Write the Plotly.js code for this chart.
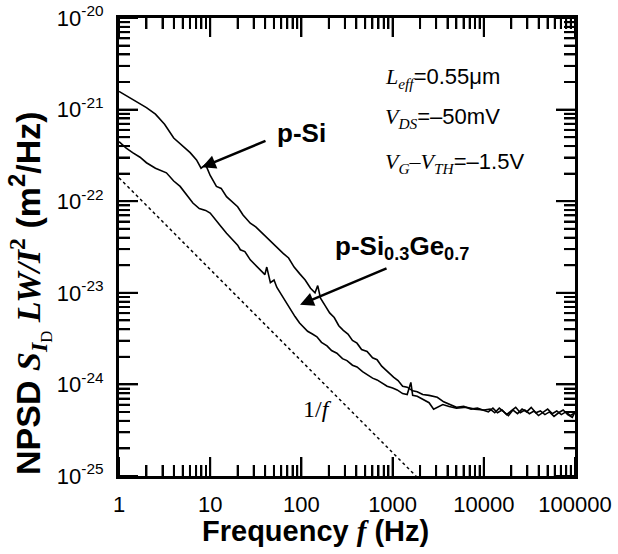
<!DOCTYPE html>
<html>
<head>
<meta charset="utf-8">
<script src="https://cdn.plot.ly/plotly-3.0.1.min.js"></script>
<style>html,body{margin:0;padding:0;background:#fff;}#chart{width:618px;height:554px;}</style>
</head>
<body>
<div id="chart"></div>
<script>
// ---- data ----
const freqPSi = [1, 1.26, 1.58, 2.0, 2.51, 3.16, 3.98, 5.01, 6.03, 7.08, 7.94, 8.91, 10, 11.7, 13.2, 15.1, 17.8, 20, 22.9, 27.5, 31.6, 35.5, 41.7, 47.9, 55, 63.1, 72.4, 83.2, 95.5, 110, 126, 141, 151, 162, 182, 204, 229, 257, 288, 324, 363, 407, 457, 525, 603, 676, 759, 871, 1023, 1148, 1288, 1445, 1660, 1862, 2138, 2512, 3090, 3631, 4266, 5012, 6026, 7244, 8511, 9772,
  11220, 12590, 14130, 15850, 17780, 19950, 22390, 25120, 28180, 31620, 35480, 39810, 44670, 50120, 56230, 63100, 70790, 79430, 89130, 100000];
const sPSi = [1.58e-21, 1.38e-21, 1.20e-21, 1.05e-21, 8.91e-22, 6.92e-22, 4.90e-22, 3.98e-22, 3.39e-22, 2.82e-22, 2.29e-22, 2.51e-22, 1.91e-22, 1.45e-22, 1.38e-22, 1.12e-22, 9.55e-23, 8.71e-23, 7.08e-23, 5.75e-23, 5.25e-23, 4.68e-23, 4.07e-23, 3.55e-23, 3.02e-23, 2.69e-23, 2.40e-23, 1.91e-23, 1.62e-23, 1.38e-23, 1.12e-23, 1.00e-23, 1.20e-23, 8.71e-24, 7.24e-24, 6.03e-24, 5.37e-24, 4.37e-24, 3.89e-24, 3.55e-24, 3.02e-24, 2.82e-24, 2.40e-24, 2.29e-24, 1.95e-24, 1.86e-24, 1.58e-24, 1.38e-24, 1.20e-24, 1.10e-24, 9.55e-25, 9.33e-25, 8.51e-25, 8.32e-25, 7.76e-25, 7.59e-25, 7.24e-25, 6.46e-25, 6.03e-25, 5.62e-25, 5.75e-25, 5.37e-25, 5.50e-25, 5.25e-25,
  5.01e-25, 5.50e-25, 4.90e-25, 5.25e-25, 4.68e-25, 5.13e-25, 5.62e-25, 4.90e-25, 5.25e-25, 4.79e-25, 5.13e-25, 4.57e-25, 5.01e-25, 5.37e-25, 4.79e-25, 5.13e-25, 4.68e-25, 5.01e-25, 4.57e-25, 4.90e-25];

const freqSiGe = [1, 1.2, 1.41, 1.7, 2.0, 2.51, 3.31, 3.98, 4.68, 5.5, 6.46, 7.59, 8.91, 10, 11.5, 13.2, 15.1, 17.4, 20, 21.4, 24, 27.5, 31.6, 35.5, 39.8, 41.7, 45.7, 50.1, 53.7, 60.3, 67.6, 75.9, 85.1, 95.5, 105, 117, 132, 148, 166, 191, 214, 245, 282, 316, 363, 407, 468, 525, 603, 676, 776, 871, 1000, 1122, 1288, 1445, 1585, 1660, 1862, 2138, 2512, 2818, 3090, 3548, 4169, 5012, 6457, 7943, 10000,
  11750, 13180, 14790, 16600, 18620, 20890, 23440, 26300, 29510, 33110, 37150, 41690, 46770, 52480, 58880, 66070, 74130, 83180, 93330, 100000];
const sSiGe = [4.47e-22, 3.80e-22, 3.39e-22, 3.02e-22, 2.63e-22, 2.29e-22, 2.04e-22, 1.66e-22, 1.45e-22, 1.17e-22, 9.55e-23, 8.32e-23, 7.94e-23, 7.41e-23, 6.31e-23, 5.25e-23, 4.47e-23, 3.80e-23, 3.31e-23, 2.95e-23, 2.82e-23, 2.29e-23, 2.00e-23, 1.78e-23, 1.58e-23, 1.91e-23, 1.29e-23, 1.38e-23, 1.15e-23, 9.55e-24, 7.94e-24, 6.46e-24, 5.50e-24, 4.68e-24, 4.27e-24, 3.80e-24, 3.55e-24, 3.31e-24, 2.88e-24, 2.63e-24, 2.34e-24, 2.19e-24, 1.91e-24, 1.82e-24, 1.62e-24, 1.55e-24, 1.38e-24, 1.29e-24, 1.17e-24, 1.12e-24, 1.02e-24, 9.55e-25, 9.12e-25, 8.71e-25, 7.94e-25, 7.76e-25, 1.05e-24, 7.59e-25, 7.41e-25, 6.92e-25, 6.31e-25, 5.37e-25, 5.62e-25, 6.03e-25, 5.75e-25, 5.50e-25, 5.62e-25, 5.37e-25, 5.25e-25,
  5.37e-25, 4.90e-25, 5.50e-25, 5.01e-25, 4.57e-25, 5.25e-25, 4.79e-25, 5.37e-25, 5.01e-25, 5.62e-25, 4.90e-25, 5.13e-25, 4.68e-25, 5.01e-25, 4.47e-25, 4.90e-25, 5.25e-25, 4.68e-25, 4.37e-25, 5.01e-25];

const freqOneOverF = [1, 2000];
const sOneOverF = [1.8e-22, 9.0e-26];

const xTickVals = [1, 10, 100, 1000, 10000, 100000];
const xTickText = ['1', '10', '100', '1000', '10000', '100000'];
const yTickVals = [1e-25, 1e-24, 1e-23, 1e-22, 1e-21, 1e-20];
const yTickText = ['10<sup>-25</sup>', '10<sup>-24</sup>', '10<sup>-23</sup>', '10<sup>-22</sup>', '10<sup>-21</sup>', '10<sup>-20</sup>'];
const minorDigits = [2, 3, 4, 5, 6, 7, 8, 9];

// ---- drawing ----
const SANS = "'Liberation Sans', Arial, sans-serif";
const SERIF = "'Liberation Serif', 'Times New Roman', serif";
const ser = s => `<span style="font-family:${SERIF}">${s}</span>`;

const W = 618, H = 554, M = {l: 119, r: 43, t: 18, b: 78};
const plotW = W - M.l - M.r, plotH = H - M.t - M.b;
const xRange = [0, 5], yRange = [-25, -20];

const traces = [
  {x: freqPSi, y: sPSi, mode: 'lines', line: {color: '#000', width: 1.6}, name: 'p-Si'},
  {x: freqSiGe, y: sSiGe, mode: 'lines', line: {color: '#000', width: 1.6}, name: 'p-SiGe'},
  {x: freqOneOverF, y: sOneOverF, mode: 'lines', line: {color: '#000', width: 1.5, dash: 'dot'}, name: '1/f'}
];

function axis(range, vals, text, standoff) {
  return {
    type: 'log', range: range, showgrid: false, zeroline: false,
    showline: true, linecolor: '#000', linewidth: 3, mirror: 'ticks',
    tickmode: 'array', tickvals: vals, ticktext: text,
    ticks: 'inside', ticklen: 19, tickwidth: 2, tickcolor: '#000',
    ticklabelstandoff: standoff,
    tickfont: {family: SANS, size: 22, color: '#000'},
    minor: {ticks: 'inside', ticklen: 11, tickwidth: 2, tickcolor: '#000', dtick: 'D1'}
  };
}

// tick marks on all four sides, positioned from the tick values through the axis ranges
const minorFrom = majors => majors.slice(0, -1).flatMap(m => minorDigits.map(d => d * m));
const fracX = v => (Math.log10(v) - xRange[0]) / (xRange[1] - xRange[0]);
const fracY = v => (Math.log10(v) - yRange[0]) / (yRange[1] - yRange[0]);
const tickLine = (x0, y0, x1, y1) => ({type: 'line', xref: 'paper', yref: 'paper', x0, y0, x1, y1, layer: 'above', line: {color: '#000', width: 2}});
const tickShapes = [];
[[xTickVals, 19], [minorFrom(xTickVals), 11]].forEach(([vals, len]) => vals.forEach(v => {
  const p = fracX(v), l = len / plotH;
  tickShapes.push(tickLine(p, 0, p, l), tickLine(p, 1, p, 1 - l));
}));
[[yTickVals, 19], [minorFrom(yTickVals), 11]].forEach(([vals, len]) => vals.forEach(v => {
  const p = fracY(v), l = len / plotW;
  tickShapes.push(tickLine(0, p, l, p), tickLine(1, p, 1 - l, p));
}));

const arrow = {text: '', showarrow: true, arrowhead: 2, arrowsize: 1.1, arrowwidth: 2.5, arrowcolor: '#000', standoff: 0, xref: 'paper', yref: 'paper'};
const label = (x, y, text, font, xanchor) => ({xref: 'paper', yref: 'paper', x, y, text, showarrow: false, xanchor: xanchor || 'center', yanchor: 'middle', font});
const annotations = [
  label(0.400, 0.750, '<b>p-Si</b>', {family: SANS, size: 26, color: '#000'}),
  Object.assign({x: 0.182, y: 0.674, ax: 65, ay: -27}, arrow),
  label(0.620, 0.500, '<b>p-Si<sub>0.3</sub>Ge<sub>0.7</sub></b>', {family: SANS, size: 26, color: '#000'}),
  Object.assign({x: 0.397, y: 0.374, ax: 88, ay: -37}, arrow),
  label(0.436, 0.146, '1/<i>f</i>', {family: SERIF, size: 24, color: '#000'}),
  label(0.579, 0.869, ser('<i>L</i><sub><i>eff</i></sub>') + '=0.55μm', {family: SANS, size: 22, color: '#000'}, 'left'),
  label(0.579, 0.782, ser('<i>V</i><sub><i>DS</i></sub>') + '=–50mV', {family: SANS, size: 22, color: '#000'}, 'left'),
  label(0.579, 0.684, ser('<i>V</i><sub><i>G</i></sub>–<i>V</i><sub><i>TH</i></sub>') + '=–1.5V', {family: SANS, size: 22, color: '#000'}, 'left'),
  label(0.432, -0.12, '<b>Frequency </b>' + ser('<b><i>f</i></b>') + '<b> (Hz)</b>', {family: SANS, size: 29, color: '#000'}),
  Object.assign(label(-0.197, 0.40, '<b>NPSD </b>' + ser('<b><i>S</i></b><sub><b><i>I</i></b><sub>D</sub></sub> <b><i>LW/I</i></b><sup><b>2</b></sup>') + '<b> (m<sup>2</sup>/Hz)</b>', {family: SANS, size: 34, color: '#000'}), {textangle: -90})
];

const layout = {
  width: W, height: H, margin: M,
  showlegend: false,
  font: {family: SANS, color: '#000'},
  xaxis: axis(xRange, xTickVals, xTickText, 7),
  yaxis: axis(yRange, yTickVals, yTickText, 8),
  shapes: tickShapes,
  annotations: annotations
};

Plotly.newPlot('chart', traces, layout, {displayModeBar: false});
</script>
</body>
</html>
